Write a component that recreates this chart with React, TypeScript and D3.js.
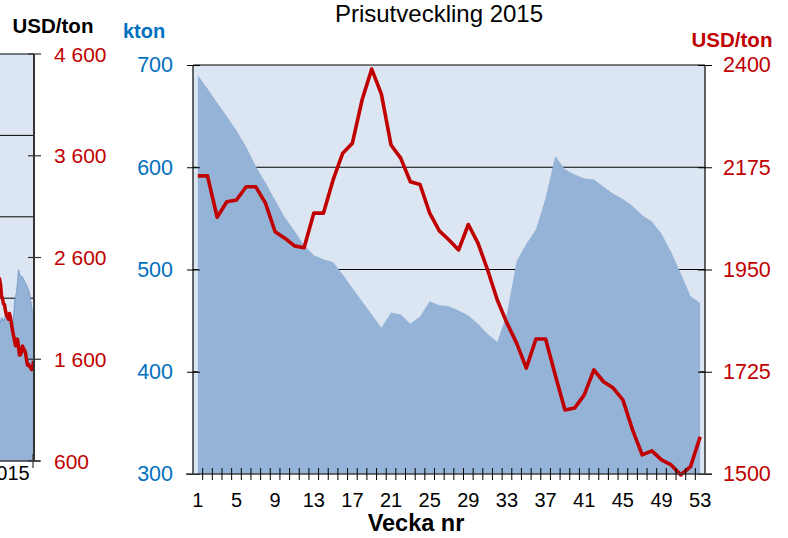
import React, { useEffect, useRef } from "react";
import * as d3 from "d3";

// week numbers 2015
const weeks = [
  1, 2, 3, 4, 5, 6, 7, 8, 9, 10, 11, 12, 13, 14, 15, 16, 17, 18, 19, 20, 21,
  22, 23, 24, 25, 26, 27, 28, 29, 30, 31, 32, 33, 34, 35, 36, 37, 38, 39, 40,
  41, 42, 43, 44, 45, 46, 47, 48, 49, 50, 51, 52, 53,
];

// stocks, kton (area)
const stockKton = [
  690, 677, 663, 650, 636, 620, 601, 585, 568, 551, 538, 524, 514, 510, 507,
  495, 482, 469, 456, 443, 458, 456, 447, 454, 469, 465, 464, 460, 455, 447,
  437, 429, 457, 508, 525, 539, 570, 611, 598, 593, 589, 588, 581, 574, 569,
  562, 553, 547, 535, 517, 496, 474, 467,
];

// price, USD/ton (line)
const priceUsd = [
  2156, 2156, 2065, 2099, 2103, 2132, 2132, 2096, 2033, 2019, 2002, 1998, 2074,
  2074, 2147, 2206, 2228, 2323, 2391, 2336, 2224, 2195, 2143, 2137, 2074, 2035,
  2015, 1993, 2049, 2008, 1949, 1883, 1832, 1788, 1733, 1797, 1797, 1718, 1641,
  1645, 1674, 1729, 1703, 1689, 1663, 1597, 1542, 1551, 1531, 1520, 1498, 1516,
  1582,
];

const labelWeeks = [1, 5, 9, 13, 17, 21, 25, 29, 33, 37, 41, 45, 49, 53];
const ktonTicks = [300, 400, 500, 600, 700];
const usdTicks = [1500, 1725, 1950, 2175, 2400];

// neighbouring (multi-year) chart, only its right edge is visible
const prevKtonGrid = [0, 260, 520, 780, 1040, 1300];
const prevUsdTicks = [600, 1600, 2600, 3600, 4600];
const prevUsdLabels = ["600", "1 600", "2 600", "3 600", "4 600"];
const prevYearLabel = "2015";

const FONT = "'Liberation Sans', Arial, sans-serif";
const RED = "#C00000";
const BLUE = "#0070C0";
const BG = "#DCE6F2";
const AREA = "#95B3D7";

const App: React.FC = () => {
  const svgRef = useRef<SVGSVGElement>(null);
  const width = 788;
  const height = 538;

  useEffect(() => {
    if (!svgRef.current) return;
    const svg = d3.select(svgRef.current);
    svg.selectAll("*").remove();
    svg.style("font-family", FONT);

    // ---------- left partial chart ----------
    const p = { right: 34, top: 54, bottom: 461 };
    const xP = d3.scaleLinear().domain([0.5, 53.5]).range([p.right - 53, p.right]);
    const yPK = d3.scaleLinear().domain([0, 1300]).range([p.bottom, p.top]);
    const yPU = d3.scaleLinear().domain([600, 4600]).range([p.bottom, p.top]);

    const prev = svg.append("g");
    prev.append("rect")
      .attr("x", 0).attr("y", p.top)
      .attr("width", p.right).attr("height", p.bottom - p.top)
      .attr("fill", BG);
    prev.selectAll(".pgrid")
      .data(prevKtonGrid.slice(1))
      .join("line")
      .attr("x1", 0).attr("x2", p.right)
      .attr("y1", (d) => yPK(d)).attr("y2", (d) => yPK(d))
      .attr("stroke", "#000").attr("stroke-width", 1);
    prev.append("path")
      .datum(stockKton)
      .attr("d", d3.area<number>()
        .x((d, i) => xP(weeks[i]))
        .y0(p.bottom)
        .y1((d) => yPK(d)))
      .attr("fill", AREA)
      .attr("stroke", "#6F93C6").attr("stroke-width", 0.8);
    prev.append("path")
      .datum(priceUsd)
      .attr("d", d3.line<number>()
        .x((d, i) => xP(weeks[i]))
        .y((d) => yPU(d)))
      .attr("fill", "none").attr("stroke", RED).attr("stroke-width", 3.5)
      .attr("stroke-linejoin", "round");
    prev.append("line")
      .attr("x1", p.right).attr("x2", p.right)
      .attr("y1", p.top).attr("y2", p.bottom)
      .attr("stroke", "#333").attr("stroke-width", 2);
    prev.append("line")
      .attr("x1", 0).attr("x2", p.right + 6)
      .attr("y1", p.bottom).attr("y2", p.bottom)
      .attr("stroke", "#404040").attr("stroke-width", 1.5);
    prev.append("line")
      .attr("x1", p.right - 1).attr("x2", p.right - 1)
      .attr("y1", p.bottom - 7).attr("y2", p.bottom + 7)
      .attr("stroke", "#333").attr("stroke-width", 1.2);
    prev.selectAll(".ptick")
      .data(prevUsdTicks)
      .join("line")
      .attr("x1", p.right - 6).attr("x2", p.right + 7)
      .attr("y1", (d) => yPU(d)).attr("y2", (d) => yPU(d))
      .attr("stroke", "#333").attr("stroke-width", 1.2);
    prev.selectAll(".plabel")
      .data(prevUsdTicks)
      .join("text")
      .attr("x", 54)
      .attr("y", (d) => yPU(d))
      .attr("dy", "0.36em")
      .attr("fill", RED)
      .style("font-size", "21px")
      .text((d, i) => prevUsdLabels[i]);
    prev.append("text")
      .attr("x", xP(27)).attr("y", 480)
      .attr("text-anchor", "middle")
      .style("font-size", "20px")
      .text(prevYearLabel);
    prev.append("text")
      .attr("x", 53).attr("y", 33)
      .attr("text-anchor", "middle")
      .style("font-size", "20.5px").style("font-weight", "bold")
      .text("USD/ton");

    // ---------- main chart ----------
    const m = { left: 193, right: 705, top: 65, bottom: 474 };
    const x = d3.scaleLinear().domain([0.5, 53.5]).range([m.left, m.right]);
    const yK = d3.scaleLinear().domain([300, 700]).range([m.bottom, m.top]);
    const yU = d3.scaleLinear().domain([1500, 2400]).range([m.bottom, m.top]);

    const g = svg.append("g");
    g.append("rect")
      .attr("x", m.left).attr("y", m.top)
      .attr("width", m.right - m.left).attr("height", m.bottom - m.top)
      .attr("fill", BG);

    // gridlines behind the area
    g.selectAll(".grid")
      .data(ktonTicks.slice(1))
      .join("line")
      .attr("x1", m.left).attr("x2", m.right)
      .attr("y1", (d) => yK(d)).attr("y2", (d) => yK(d))
      .attr("stroke", "#000").attr("stroke-width", 1);

    g.append("path")
      .datum(stockKton)
      .attr("d", d3.area<number>()
        .x((d, i) => x(weeks[i]))
        .y0(m.bottom)
        .y1((d) => yK(d)))
      .attr("fill", AREA);

    g.append("path")
      .datum(priceUsd)
      .attr("d", d3.line<number>()
        .x((d, i) => x(weeks[i]))
        .y((d) => yU(d)))
      .attr("fill", "none").attr("stroke", RED).attr("stroke-width", 3.6)
      .attr("stroke-linejoin", "round");

    // left axis (kton)
    g.append("g")
      .attr("transform", `translate(${m.left},0)`)
      .call(d3.axisLeft(yK).tickValues(ktonTicks).tickSize(6).tickPadding(14))
      .call((a) => a.select(".domain").remove())
      .call((a) => a.selectAll(".tick line").attr("x1", -6).attr("x2", 7).attr("stroke", "#000"))
      .call((a) => a.selectAll(".tick text")
        .attr("fill", BLUE).style("font-size", "21.5px").style("font-family", FONT));
    g.append("line")
      .attr("x1", m.left).attr("x2", m.left)
      .attr("y1", m.top).attr("y2", m.bottom)
      .attr("stroke", "#000").attr("stroke-width", 1.2);

    // right axis (USD/ton)
    g.append("g")
      .attr("transform", `translate(${m.right},0)`)
      .call(d3.axisRight(yU).tickValues(usdTicks).tickFormat(d3.format("d")).tickSize(6).tickPadding(12))
      .call((a) => a.select(".domain").remove())
      .call((a) => a.selectAll(".tick line").attr("x1", -7).attr("x2", 7).attr("stroke", "#000"))
      .call((a) => a.selectAll(".tick text")
        .attr("fill", RED).style("font-size", "21.5px").style("font-family", FONT));
    g.append("line")
      .attr("x1", m.right).attr("x2", m.right)
      .attr("y1", m.top).attr("y2", m.bottom)
      .attr("stroke", "#000").attr("stroke-width", 1.2);

    // bottom axis: ticks on week boundaries, labels every 4th week
    g.append("line")
      .attr("x1", m.left - 7).attr("x2", m.right + 7)
      .attr("y1", m.bottom).attr("y2", m.bottom)
      .attr("stroke", "#404040").attr("stroke-width", 1.5);
    g.selectAll(".xtick")
      .data(weeks.slice(0, -1))
      .join("line")
      .attr("x1", (d) => x(d + 0.5)).attr("x2", (d) => x(d + 0.5))
      .attr("y1", m.bottom - 6).attr("y2", m.bottom + 6)
      .attr("stroke", "#000").attr("stroke-width", 1);
    g.selectAll(".xlabel")
      .data(labelWeeks)
      .join("text")
      .attr("x", (d) => x(d)).attr("y", 507)
      .attr("text-anchor", "middle")
      .style("font-size", "20px")
      .text((d) => String(d));

    // titles
    g.append("text")
      .attr("x", 439).attr("y", 22)
      .attr("text-anchor", "middle")
      .style("font-size", "24px")
      .text("Prisutveckling 2015");
    g.append("text")
      .attr("x", 144).attr("y", 38)
      .attr("text-anchor", "middle")
      .attr("fill", BLUE)
      .style("font-size", "20px").style("font-weight", "bold")
      .text("kton");
    g.append("text")
      .attr("x", 732).attr("y", 47)
      .attr("text-anchor", "middle")
      .attr("fill", RED)
      .style("font-size", "20.5px").style("font-weight", "bold")
      .text("USD/ton");
    g.append("text")
      .attr("x", 416).attr("y", 531)
      .attr("text-anchor", "middle")
      .style("font-size", "23.5px").style("font-weight", "bold")
      .text("Vecka nr");
  }, []);

  return (
    <svg
      ref={svgRef}
      width={width}
      height={height}
      style={{ position: "absolute", left: 0, top: 0, display: "block", background: "#fff" }}
    ></svg>
  );
};

export default App;
